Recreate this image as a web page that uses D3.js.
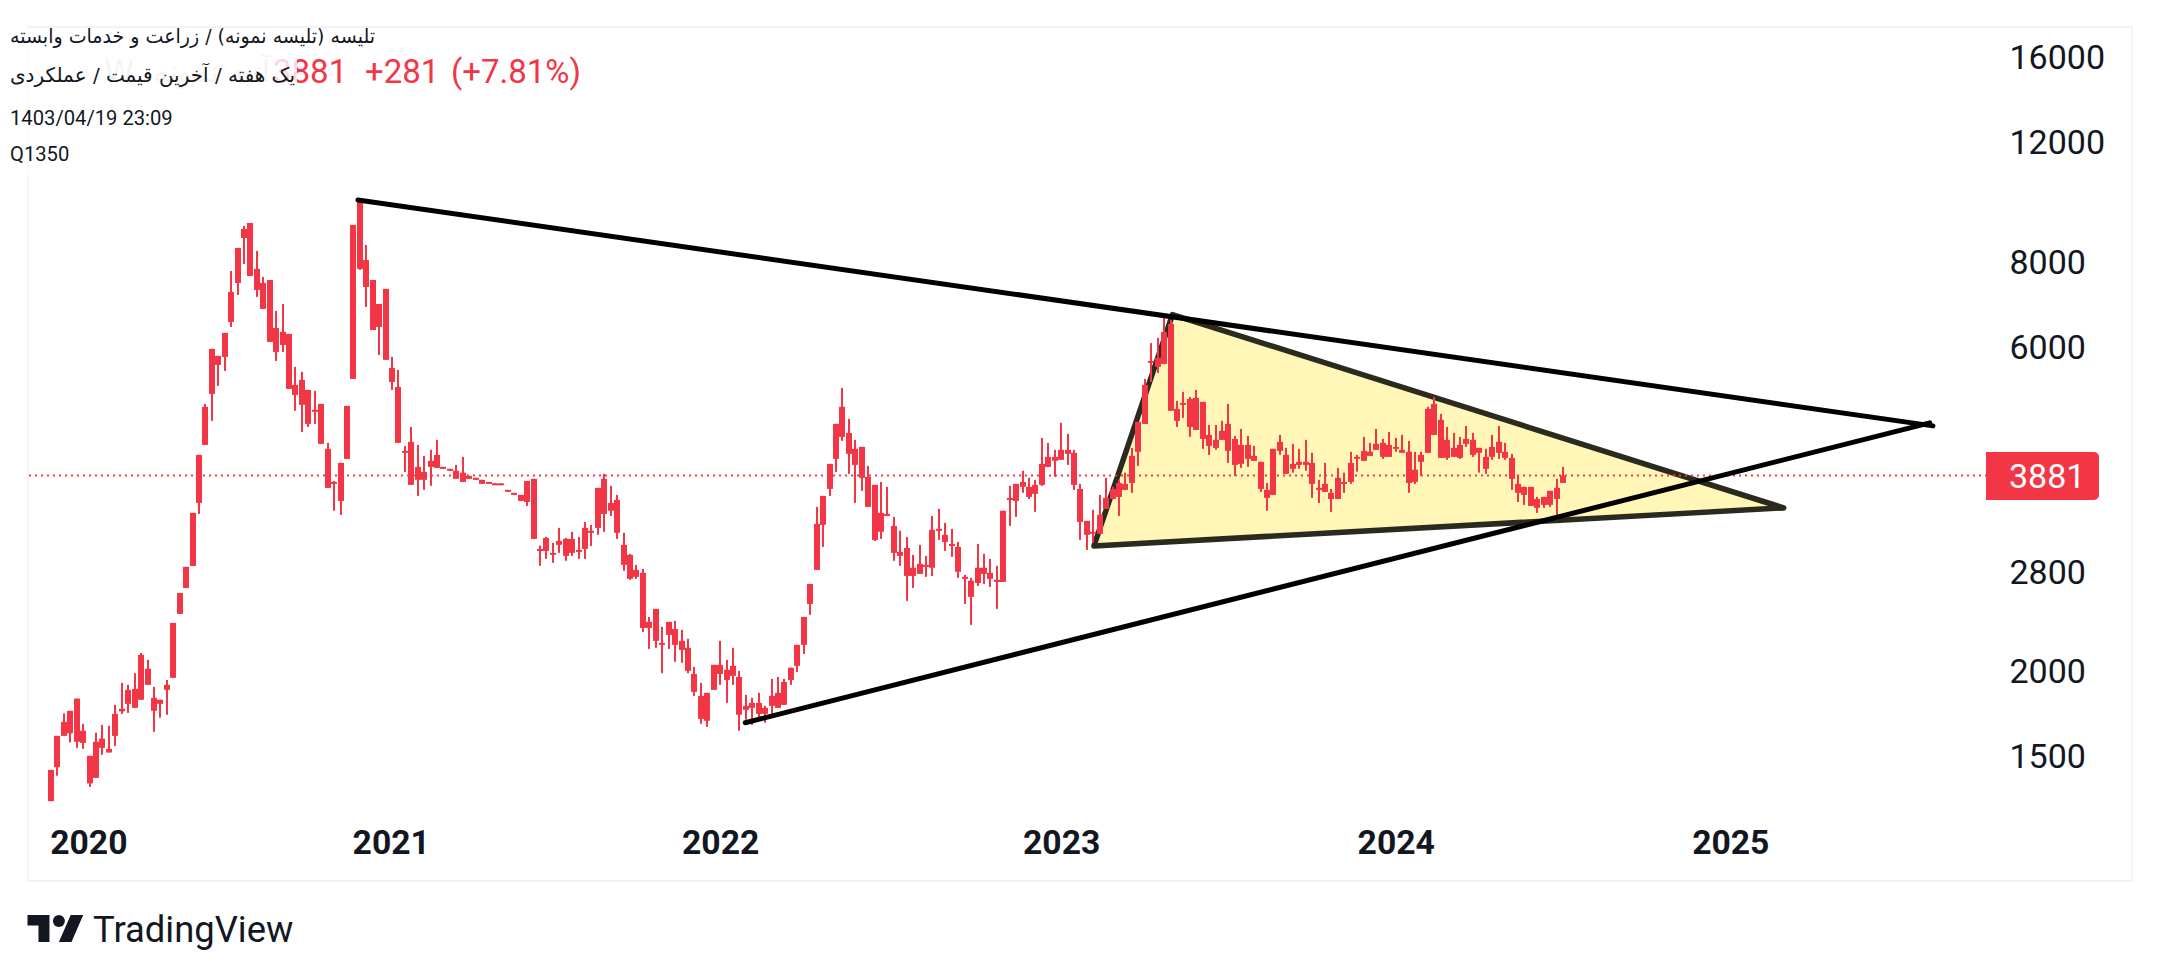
<!DOCTYPE html>
<html><head><meta charset="utf-8">
<script src="https://cdn.jsdelivr.net/npm/d3@7"></script>
<style>html,body{margin:0;background:#fff}svg{display:block}text{font-family:Roboto,sans-serif}</style>
</head><body><svg id="c" width="2160" height="979"></svg>
<script>
const candleHigh=[1433,1608,1735,1750,1824,1675,1503,1625,1669,1663,
1786,1924,1911,1988,2129,2080,1898,1817,1943,2357,
2608,2849,3420,4162,4946,5958,5818,6289,7755,8384,
9032,9125,8300,7600,7523,6775,6936,6268,5605,5512,
5186,5169,4946,4335,3810,4051,4912,9063,9880,8470,
7523,6936,7298,5798,5549,4290,4575,4305,4148,4234,
4379,3996,3970,4023,4134,3876,3851,3825,3798,3780,
3780,3697,3660,3635,3810,3838,3062,3153,3090,3251,
3142,3208,3153,3317,3284,3722,3903,3748,3635,3197,
2977,2868,2830,2405,2471,2325,2365,2373,2302,2233,
2031,1924,1860,2045,2218,2080,2166,2004,1847,1829,
1860,1780,1950,1963,1950,2025,2188,2405,2689,3490,
3622,4037,4622,5221,4701,4379,4276,4010,3760,3798,
3735,3374,3219,3153,2967,3069,2957,3385,3467,3306,
3240,3100,2773,2745,3079,2977,2927,2859,3445,3748,
3773,3945,3851,3825,4408,4335,4234,4638,4468,4234,
3773,3329,3456,3635,3851,3735,3825,3919,4262,4654,
5382,6076,6183,6616,6572,4996,5151,5064,5186,4980,
4606,4606,4670,4946,4438,4544,4438,4290,4065,3785,
4248,4453,4262,4320,4248,4379,4191,3825,4051,3709,
3983,3919,4205,4162,4423,4335,4544,4393,4498,4408,
4453,4364,4205,4205,4896,5064,4781,4575,4483,4423,
4590,4483,4262,4248,4453,4590,4335,4176,3889,3735,
3735,3610,3610,3685,3838,3996];
const bodyTop=[1433,1608,1686,1750,1824,1636,1503,1576,1593,1539,
1732,1762,1879,1885,2115,2018,1829,1817,1911,2357,
2608,2849,3420,4162,4896,5958,5818,6289,7223,8384,
8941,9125,7810,7447,7523,6395,6310,6268,5274,5365,
5186,4848,4946,4248,3798,4051,4912,9063,9880,8047,
7523,6936,7298,5586,5238,4219,4349,3996,3929,4079,
4162,3996,3970,3945,3919,3876,3851,3825,3798,3780,
3780,3697,3660,3635,3810,3838,3027,3142,2987,3111,
3132,3132,3017,3251,3219,3722,3838,3537,3573,3069,
2967,2820,2792,2365,2471,2203,2365,2309,2218,2166,
1983,1841,1860,2045,2045,2011,2038,1963,1780,1798,
1798,1768,1841,1860,1930,2025,2188,2405,2689,3295,
3622,4037,4622,4896,4483,4248,4276,3863,3760,3420,
3408,3273,2997,3038,2840,2878,2868,3230,3240,3175,
3079,3048,2754,2718,2840,2840,2792,2727,3445,3598,
3773,3798,3735,3760,4037,4134,4134,4234,4234,4191,
3709,3329,3208,3397,3598,3709,3785,3773,4148,4654,
5274,5720,5778,6310,6483,4863,4963,5030,5047,4980,
4453,4379,4514,4622,4393,4305,4305,4148,4065,3697,
4248,4349,4162,4037,4065,4065,4051,3722,3773,3660,
3851,3798,4051,4134,4219,4205,4320,4335,4305,4276,
4234,4205,3958,4162,4863,4946,4686,4379,4262,4305,
4393,4379,4262,4134,4276,4349,4205,4120,3773,3735,
3735,3585,3610,3685,3722,3881];
const bodyBottom=[1289,1446,1608,1622,1576,1570,1369,1395,1544,1520,
1608,1747,1792,1768,1817,1911,1750,1792,1879,1957,
2430,2653,2858,3537,4305,5116,5643,5798,6527,7447,
8672,7625,7272,6821,6100,5897,6038,5203,5098,4930,
4622,4815,4320,3722,3773,3561,4106,5382,7810,7347,
6352,6417,5741,5328,4335,4191,3760,3825,3825,3996,
3983,3970,3945,3838,3798,3838,3825,3773,3773,3760,
3760,3672,3635,3561,3549,3132,3007,3007,2967,3069,
2957,2987,2997,3027,3197,3251,3408,3445,3197,2868,
2736,2754,2317,2317,2218,2188,2263,2188,2151,2004,
1866,1703,1692,1879,1983,1943,1970,1727,1756,1768,
1732,1732,1780,1768,1786,1943,2038,2188,2513,2820,
3284,3709,4106,4423,4176,4023,3851,3490,3121,3208,
3385,2987,2957,2763,2763,2782,2849,2840,3219,3100,
3058,2802,2736,2574,2698,2782,2736,2707,2707,3573,
3561,3735,3610,3647,3760,3996,4079,4093,4176,3760,
3317,3175,3186,3186,3467,3585,3610,3697,3785,4205,
4622,5701,5605,5662,4832,4670,4930,4575,4529,4393,
4290,4262,4379,4219,4023,4037,4106,4079,3709,3598,
3635,4219,3903,3970,4023,4023,3773,3709,3672,3585,
3585,3773,3798,4120,4079,4148,4234,4134,4134,4248,
4191,3785,3798,4065,4191,4453,4120,4120,4134,4120,
4320,4162,4191,3970,4134,4191,4120,3838,3660,3635,
3502,3479,3514,3514,3585,3785];
const candleLow=[1289,1405,1608,1573,1544,1539,1353,1395,1508,1520,
1554,1732,1738,1768,1817,1911,1630,1710,1727,1957,
2430,2653,2858,3408,4305,4670,5256,5530,6417,7152,
7942,7625,7103,6821,6100,5720,5897,5203,4832,4498,
4575,4622,4320,3722,3445,3397,4106,5382,7784,6867,
6352,5838,5741,5186,4335,3929,3760,3622,3697,3748,
3983,3970,3945,3838,3798,3838,3825,3773,3773,3760,
3760,3672,3635,3561,3502,3132,2859,2927,2888,2987,
2908,2957,2927,2927,3058,3175,3208,3385,3132,2811,
2727,2736,2286,2158,2166,1988,2158,2066,2059,1988,
1841,1675,1658,1879,1911,1798,1911,1636,1698,1669,
1692,1681,1727,1768,1786,1911,1996,2122,2422,2820,
3048,3622,3929,4364,3903,3537,3685,3490,3111,3132,
3385,2908,2859,2539,2653,2782,2754,2763,3121,3007,
2947,2745,2513,2341,2671,2689,2662,2471,2707,3273,
3374,3660,3585,3432,3748,3996,3863,4093,4023,3697,
3121,3017,3090,3186,3467,3585,3385,3697,3660,4010,
4622,5328,5493,5662,4832,4575,4717,4423,4529,4248,
4162,4234,4379,4051,3876,3983,3996,4079,3672,3445,
3635,4162,3903,3919,3970,3945,3598,3537,3672,3432,
3585,3660,3773,3932,4079,4148,4234,4106,4134,4205,
4191,3660,3773,3876,4191,4453,4120,4093,4134,4106,
4276,4134,3919,3903,4093,4106,4093,3697,3549,3514,
3502,3420,3479,3490,3340,3785];
const lastPrice=3881;
const priceTicks=[16000,12000,8000,6000,2800,2000,1500];
const yearLabels=["2020","2021","2022","2023","2024","2025"];
const yearIndex=[5.8,52.8,104,157,209,261];
const topLineIndex=[47.7,292.5], topLinePrice=[9860,4591];
const riseLineIndex=[107.9,292], riseLinePrice=[1681,4638];
const triangleIndex=[162.1,174.3,269.3], trianglePrice=[3058,6690,3478];
const titleLine="تلیسه (تلیسه نمونه) / زراعت و خدمات وابسته";
const subtitleLine="یک هفته / آخرین قیمت / عملکردی";
const faintLine="آتیه نمونه، W";
const dateLine="1403/04/19 23:09";
const symbolLine="Q1350";
const changeLabels=["3881","+281","(+7.81%)"];

const RED="#F23645",INK="#131722",EDGE="#F0F3FA";
const svg=d3.select("#c");
const x=d3.scaleLinear([0,235],[51,1563]);
const y=d3.scaleLog([16000,1500],[57,756.4]);

svg.append("rect").attr("x",28).attr("y",27).attr("width",2104).attr("height",854)
  .attr("fill","#fff").attr("stroke",EDGE).attr("stroke-width",2);

// triangle
const tri=triangleIndex.map((d,i)=>[x(d),y(trianglePrice[i])]);
svg.append("polygon").attr("points",tri.join(" ")).attr("fill","#FFF6B8")
  .attr("stroke","#2B2A1E").attr("stroke-width",5.5).attr("stroke-linejoin","round");

// last price line
svg.append("line").attr("x1",29).attr("x2",1986).attr("y1",y(lastPrice)).attr("y2",y(lastPrice))
  .attr("stroke",RED).attr("stroke-width",2).attr("stroke-dasharray","2 4");

// candles
const idx=d3.range(candleHigh.length);
const g=svg.append("g").attr("fill",RED);
g.selectAll("rect.w").data(idx).join("rect").attr("class","w")
  .attr("x",i=>Math.round(x(i))-1).attr("width",2)
  .attr("y",i=>y(candleHigh[i])).attr("height",i=>y(candleLow[i])-y(candleHigh[i]));
g.selectAll("rect.b").data(idx).join("rect").attr("class","b")
  .attr("x",i=>Math.round(x(i))-3).attr("width",6)
  .attr("y",i=>y(bodyTop[i])).attr("height",i=>Math.max(2,y(bodyBottom[i])-y(bodyTop[i])));

// trend lines
const lineGen=d3.line().x(d=>x(d[0])).y(d=>y(d[1]));
[[topLineIndex,topLinePrice],[riseLineIndex,riseLinePrice]].forEach(([a,b])=>{
  svg.append("path").attr("d",lineGen(a.map((d,i)=>[d,b[i]]))).attr("fill","none")
    .attr("stroke","#000").attr("stroke-width",5).attr("stroke-linecap","round");
});

// axes
const yAxis=d3.axisRight(y).tickValues(priceTicks).tickFormat(d3.format("d")).tickSize(0).tickPadding(0);
const ya=svg.append("g").attr("transform","translate(2009.5,0)").call(yAxis);
ya.select(".domain").remove();
ya.selectAll("text").attr("fill",INK).attr("dy",".33em").style("font-size","34px");
const xAxis=d3.axisBottom(x).tickValues(yearIndex).tickFormat((d,i)=>yearLabels[i]).tickSize(0).tickPadding(0);
const xa=svg.append("g").attr("transform","translate(0,830.5)").call(xAxis);
xa.select(".domain").remove();
xa.selectAll("text").attr("fill",INK).style("font-size","33.7px").style("font-weight","700");

// price tag
svg.append("path").attr("d","M1986 452H2094a5 5 0 0 1 5 5V495a5 5 0 0 1 -5 5H1986Z").attr("fill",RED);
svg.append("text").attr("x",2009).attr("y",y(lastPrice)).attr("dy",".36em").attr("fill","#fff")
  .style("font-size","34px").text(lastPrice);

// readout
const rx=[273,365,451];
changeLabels.forEach((t,i)=>svg.append("text").attr("x",rx[i]).attr("y",83).attr("fill",RED).style("font-size","33px").text(t));
svg.append("text").attr("x",270).attr("y",82).attr("fill","#c9c9c9").attr("direction","rtl")
  .style("font-family","'DejaVu Sans'").style("font-size","30px").text(faintLine);
// translucent header backing
[[0,28,381,27],[0,55,297,45],[0,100,175,40],[0,140,75,37]].forEach(r=>{
  svg.append("rect").attr("x",r[0]).attr("y",r[1]).attr("width",r[2]).attr("height",r[3]).attr("fill","rgba(255,255,255,.8)");
});
const header=(t,xp,yp,rtl,len)=>{const e=svg.append("text").attr("x",xp).attr("y",yp).attr("fill",INK);
  if(rtl)e.attr("direction","rtl").attr("textLength",len).attr("lengthAdjust","spacingAndGlyphs").style("font-family","'DejaVu Sans'");
  e.style("font-size","20.2px").text(t);return e;};
header(titleLine,375,43,true,365);
header(subtitleLine,295,82,true,285);
header(dateLine,10,125,false);
header(symbolLine,10,161,false);

// logo
svg.append("path").attr("transform","translate(27.5,909) scale(1.57,1.5)").attr("fill",INK)
  .attr("d","M14 22H7V11H0V4h14v18zM28 22h-8l7.5-18h8L28 22z");
svg.append("circle").attr("cx",27.5+20*1.57).attr("cy",909+8*1.5).attr("r",6).attr("fill",INK);
svg.append("text").attr("x",93).attr("y",942).attr("fill",INK).style("font-size","36.4px").text("TradingView");
</script></body></html>
